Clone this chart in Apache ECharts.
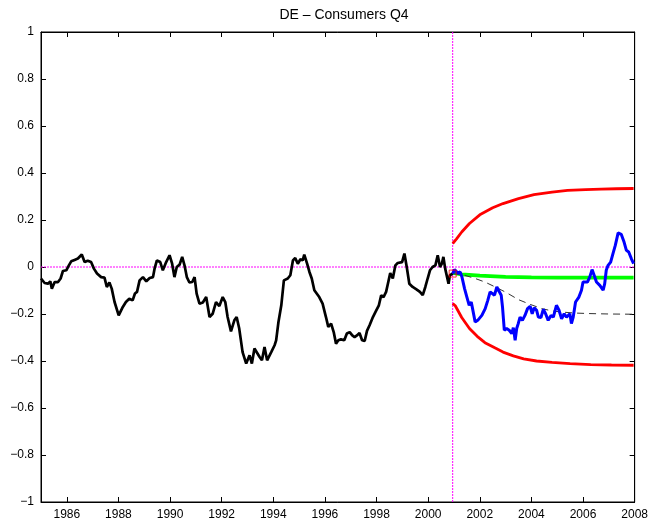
<!DOCTYPE html>
<html>
<head>
<meta charset="utf-8">
<script src="https://cdn.jsdelivr.net/npm/echarts@6/dist/echarts.min.js"></script>
<style>html,body{margin:0;padding:0;background:#fff}#c{width:651px;height:523px}</style>
</head>
<body>
<div id="c"></div>
<script>
const titleText = 'DE \u2013 Consumers Q4';
const xTicks = [1986,1988,1990,1992,1994,1996,1998,2000,2002,2004,2006,2008];
const forecastStart = 2000.95;

const history = [
[1985.00,-0.049],[1985.14,-0.068],[1985.27,-0.071],[1985.36,-0.061],[1985.42,-0.092],[1985.53,-0.064],
[1985.66,-0.064],[1985.76,-0.049],[1985.85,-0.017],[1985.98,-0.014],[1986.08,0.007],[1986.17,0.024],
[1986.30,0.030],[1986.43,0.036],[1986.58,0.053],[1986.69,0.021],[1986.81,0.027],[1986.94,0.021],
[1987.05,-0.007],[1987.17,-0.028],[1987.33,-0.043],[1987.46,-0.045],[1987.55,-0.085],[1987.65,-0.066],
[1987.74,-0.092],[1987.85,-0.149],[1988.01,-0.206],[1988.17,-0.170],[1988.29,-0.149],[1988.42,-0.135],
[1988.55,-0.142],[1988.64,-0.113],[1988.72,-0.106],[1988.82,-0.057],[1988.95,-0.043],[1989.08,-0.061],
[1989.21,-0.047],[1989.34,-0.043],[1989.40,-0.007],[1989.49,0.028],[1989.62,0.021],[1989.72,-0.014],
[1989.85,0.021],[1989.98,0.050],[1990.08,0.014],[1990.17,-0.043],[1990.26,0.000],[1990.37,0.010],
[1990.47,0.043],[1990.56,0.007],[1990.65,-0.043],[1990.75,-0.066],[1990.86,-0.064],[1990.95,-0.043],
[1991.03,-0.113],[1991.14,-0.156],[1991.27,-0.151],[1991.40,-0.128],[1991.53,-0.213],[1991.65,-0.199],
[1991.78,-0.149],[1991.91,-0.166],[1992.04,-0.128],[1992.14,-0.149],[1992.23,-0.213],[1992.36,-0.274],
[1992.49,-0.227],[1992.58,-0.213],[1992.68,-0.262],[1992.81,-0.362],[1992.95,-0.411],[1993.08,-0.376],
[1993.17,-0.411],[1993.27,-0.347],[1993.47,-0.383],[1993.56,-0.397],[1993.66,-0.340],[1993.76,-0.397],
[1993.92,-0.362],[1994.05,-0.333],[1994.11,-0.312],[1994.20,-0.234],[1994.31,-0.163],[1994.41,-0.057],
[1994.56,-0.049],[1994.66,-0.035],[1994.76,0.028],[1994.85,0.038],[1994.95,0.014],[1995.05,0.033],
[1995.14,0.028],[1995.20,0.053],[1995.31,0.014],[1995.40,-0.021],[1995.49,-0.049],[1995.59,-0.099],
[1995.78,-0.128],[1995.91,-0.156],[1996.04,-0.213],[1996.13,-0.255],[1996.24,-0.241],[1996.34,-0.277],
[1996.43,-0.326],[1996.52,-0.312],[1996.62,-0.308],[1996.75,-0.312],[1996.85,-0.283],[1996.96,-0.277],
[1997.06,-0.291],[1997.15,-0.298],[1997.24,-0.291],[1997.34,-0.281],[1997.44,-0.312],[1997.54,-0.315],
[1997.63,-0.272],[1997.73,-0.248],[1997.86,-0.213],[1997.98,-0.187],[1998.09,-0.163],[1998.18,-0.120],
[1998.27,-0.128],[1998.37,-0.106],[1998.44,-0.071],[1998.53,-0.026],[1998.63,-0.049],[1998.73,0.007],
[1998.82,0.017],[1998.99,0.021],[1999.08,0.057],[1999.17,0.000],[1999.27,-0.071],[1999.40,-0.085],
[1999.56,-0.096],[1999.68,-0.106],[1999.79,-0.120],[1999.89,-0.085],[1999.98,-0.049],[2000.07,-0.014],
[2000.17,0.000],[2000.28,0.007],[2000.37,0.050],[2000.46,0.000],[2000.53,0.014],[2000.59,0.043],
[2000.66,-0.007],[2000.71,-0.011],[2000.79,-0.071],[2000.84,-0.035],[2000.95,-0.028]
];

const actualAfter = [
[2000.95,-0.028],[2001.02,-0.011],[2001.15,-0.026],[2001.24,-0.021],[2001.31,-0.043],[2001.41,-0.092],
[2001.50,-0.128],[2001.59,-0.163],[2001.67,-0.149],[2001.72,-0.177],[2001.82,-0.234],[2001.92,-0.227],
[2002.08,-0.206],[2002.21,-0.177],[2002.31,-0.142],[2002.40,-0.106],[2002.46,-0.099],[2002.57,-0.120],
[2002.66,-0.085],[2002.72,-0.085],[2002.83,-0.120],[2002.88,-0.170],[2002.95,-0.269],[2003.04,-0.262],
[2003.14,-0.269],[2003.24,-0.283],[2003.30,-0.258],[2003.37,-0.312],[2003.43,-0.262],[2003.49,-0.241],
[2003.56,-0.213],[2003.65,-0.227],[2003.75,-0.206],[2003.85,-0.177],[2003.95,-0.167],[2004.03,-0.199],
[2004.11,-0.173],[2004.20,-0.184],[2004.27,-0.213],[2004.37,-0.215],[2004.46,-0.180],[2004.55,-0.199],
[2004.65,-0.227],[2004.76,-0.206],[2004.85,-0.213],[2004.97,-0.163],[2005.07,-0.184],[2005.17,-0.220],
[2005.27,-0.199],[2005.36,-0.213],[2005.49,-0.199],[2005.55,-0.241],[2005.62,-0.213],[2005.71,-0.149],
[2005.78,-0.142],[2005.84,-0.128],[2005.94,-0.099],[2006.00,-0.064],[2006.07,-0.057],[2006.17,-0.064],
[2006.26,-0.043],[2006.35,-0.011],[2006.43,-0.035],[2006.52,-0.064],[2006.65,-0.078],[2006.78,-0.099],
[2006.84,-0.071],[2006.90,-0.014],[2006.97,0.007],[2007.07,0.021],[2007.16,0.057],[2007.25,0.092],
[2007.36,0.145],[2007.48,0.139],[2007.59,0.106],[2007.68,0.071],[2007.77,0.064],[2007.87,0.036],
[2007.96,0.014]
];

const upperBand = [
[2000.95,0.100],[2001.10,0.120],[2001.30,0.149],[2001.60,0.185],[2002.00,0.222],[2002.50,0.252],
[2002.90,0.270],[2003.50,0.291],[2004.10,0.308],[2004.80,0.319],[2005.40,0.326],[2006.10,0.329],
[2006.70,0.331],[2007.30,0.333],[2007.96,0.334]
];
const lowerBand = [
[2000.95,-0.155],[2001.05,-0.165],[2001.30,-0.215],[2001.60,-0.262],[2001.90,-0.295],[2002.20,-0.322],
[2002.60,-0.345],[2002.90,-0.362],[2003.30,-0.378],[2003.70,-0.391],[2004.20,-0.400],[2004.80,-0.406],
[2005.50,-0.411],[2006.30,-0.415],[2007.10,-0.417],[2007.96,-0.418]
];
const meanForecast = [
[2000.95,-0.025],[2001.30,-0.031],[2002.00,-0.037],[2003.00,-0.042],[2004.00,-0.044],[2005.00,-0.045],
[2006.00,-0.045],[2007.96,-0.045]
];
const dashedForecast = [
[2000.95,-0.028],[2001.40,-0.035],[2001.80,-0.048],[2002.20,-0.064],[2002.60,-0.085],[2003.00,-0.107],
[2003.50,-0.139],[2003.95,-0.159],[2004.40,-0.177],[2004.80,-0.187],[2005.20,-0.192],[2005.70,-0.196],
[2006.20,-0.198],[2007.00,-0.200],[2007.96,-0.201]
];
const zeroLine = [[1985,0],[2008,0]];
const startLine = [[forecastStart,-1],[forecastStart,1]];
const startPoint = [[forecastStart,-0.028]];

const chart = echarts.init(document.getElementById('c'), null, {renderer:'canvas'});
const FONT = 'Liberation Sans, Arial, sans-serif';
const yFmt = v => { const s = String(+(+v).toFixed(1)); return s.replace('-', '\u2212'); };
const xFmt = v => String(Math.round(v));
const lineS = (name, data, color, width, z, type) => ({
  name, type:'line', data, symbol:'none', z, silent:true, animation:false,
  itemStyle:{color}, lineStyle:{color, width, type: type||'solid'}, clip:true
});

chart.setOption({
  animation:false,
  backgroundColor:'#fff',
  title:{text:titleText, left:339, top:3, textAlign:'center',
    textStyle:{fontFamily:FONT, fontSize:14, fontWeight:'normal', color:'#000'}},
  grid:{left:41, right:14, top:32, bottom:21, show:true, borderColor:'#000', borderWidth:1},
  xAxis:[{
    type:'value', min:1985, max:2008, position:'bottom',
    axisLine:{show:true, onZero:false, lineStyle:{color:'#000', width:1}},
    axisTick:{show:true, inside:true, length:5, customValues:xTicks, lineStyle:{color:'#000'}},
    axisLabel:{show:true, customValues:xTicks, formatter:xFmt, margin:7, color:'#000', fontFamily:FONT, fontSize:12},
    splitLine:{show:false}
  },{
    type:'value', min:1985, max:2008, position:'top',
    axisLine:{show:true, onZero:false, lineStyle:{color:'#000', width:1}},
    axisTick:{show:true, inside:true, length:5, customValues:xTicks, lineStyle:{color:'#000'}},
    axisLabel:{show:false}, splitLine:{show:false}
  }],
  yAxis:[{
    type:'value', min:-1, max:1, interval:0.2, position:'left',
    axisLine:{show:true, onZero:false, lineStyle:{color:'#000', width:1}},
    axisTick:{show:true, inside:true, length:5, lineStyle:{color:'#000'}},
    axisLabel:{show:true, formatter:yFmt, margin:7, color:'#000', fontFamily:FONT, fontSize:12},
    splitLine:{show:false}
  },{
    type:'value', min:-1, max:1, interval:0.2, position:'right',
    axisLine:{show:true, onZero:false, lineStyle:{color:'#000', width:1}},
    axisTick:{show:true, inside:true, length:5, lineStyle:{color:'#000'}},
    axisLabel:{show:false}, splitLine:{show:false}
  }],
  series:[
    lineS('zero', zeroLine, '#ff00ff', 1, 1, [2,1]),
    lineS('start', startLine, '#ff00ff', 1, 1, [2,1]),
    lineS('upper', upperBand, '#ff0000', 2.8, 2),
    lineS('lower', lowerBand, '#ff0000', 2.8, 2),
    lineS('mean', meanForecast, '#00ff00', 3.8, 3),
    lineS('trend', dashedForecast, '#333333', 1, 4, [7,5]),
    lineS('history', history, '#000000', 2.7, 5),
    lineS('actual', actualAfter, '#0000ff', 3, 6),
    {name:'startPoint', type:'scatter', data:startPoint, symbol:'rect', symbolSize:7, z:7, silent:true,
     itemStyle:{color:'rgba(0,0,0,0)', borderColor:'#ff0000', borderWidth:1}}
  ]
});
</script>
</body>
</html>
